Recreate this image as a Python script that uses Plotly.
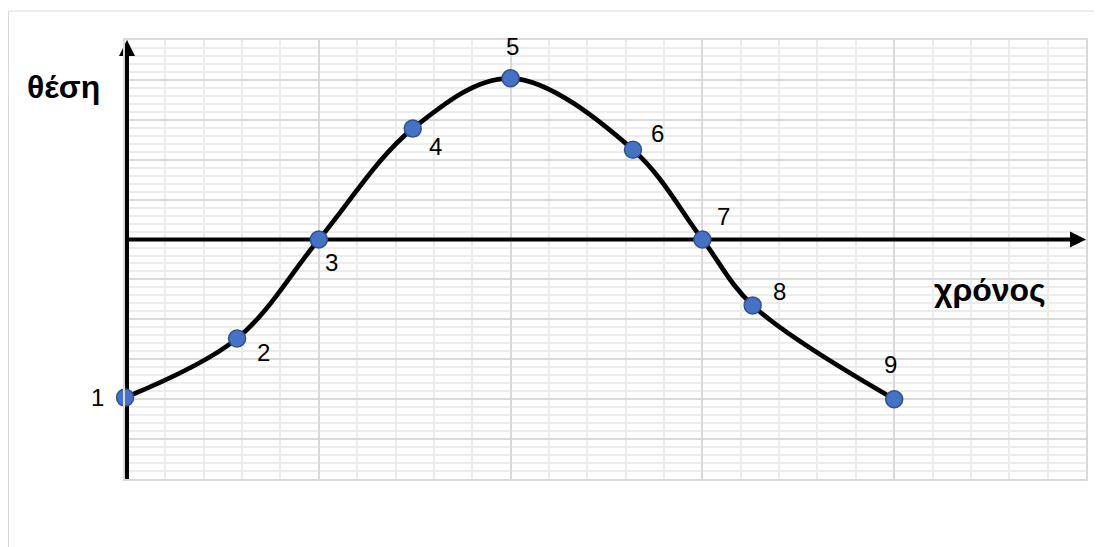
import plotly.graph_objects as go

# points (x in small grid steps, y in big grid steps)
xronos = [-0.05, 2.87, 5.0, 7.45, 10.0, 13.19, 15.0, 16.31, 20.0]
thesi = [-3.96, -2.48, 0.0, 2.78, 4.04, 2.25, 0.0, -1.65, -4.0]
point_labels = ["1", "2", "3", "4", "5", "6", "7", "8", "9"]

x_range = [-0.052, 25]   # tiny bit left of 0 so the thick y axis is not cut
y_range = [-6, 5]

# where each number sits around its point, in pixels
label_shift = [(-28, 0), (26, -14), (13, -23), (23, -18), (2, 32),
               (25, 16), (21, 23), (27, 14), (-4, 35)]

grid_major = "#d9d9d9"
grid_minor = "#ececec"

fig = go.Figure()

# the two black axes
axis_line = dict(color="black", width=4)
fig.add_shape(type="line", x0=0, x1=0, y0=y_range[0], y1=y_range[1] - 0.2,
              line=axis_line, layer="between")
fig.add_shape(type="line", x0=0, x1=x_range[1] - 0.2, y0=0, y1=0,
              line=axis_line, layer="between")

# arrow heads at the ends of the axes
fig.add_trace(go.Scatter(
    x=[0, x_range[1]], y=[y_range[1], 0], mode="markers",
    marker=dict(symbol=["arrow-up", "arrow-right"], size=16, color="black",
                line=dict(width=0)),
    cliponaxis=False, hoverinfo="skip", showlegend=False,
))

fig.add_trace(go.Scatter(
    x=xronos, y=thesi, mode="lines+markers",
    line=dict(color="black", width=4.7, shape="spline", smoothing=1),
    marker=dict(size=17, color="#4472C4", line=dict(color="#2F528F", width=1.5)),
    cliponaxis=False, hoverinfo="skip", showlegend=False,
))

for x, y, t, (dx, dy) in zip(xronos, thesi, point_labels, label_shift):
    fig.add_annotation(x=x, y=y, text=t, showarrow=False, xshift=dx, yshift=dy,
                       font=dict(family="Arial", size=24, color="black"))

# outer chart frame
fig.add_shape(type="rect", xref="paper", yref="paper",
              x0=-0.1212, x1=1.05, y0=-0.2, y1=1.066,
              line=dict(color=grid_major, width=1), layer="below")

fig.add_annotation(xref="paper", yref="paper", x=-0.0645, y=0.893, text="<b>θέση</b>",
                   showarrow=False, xanchor="center", yanchor="middle",
                   font=dict(family="Arial", size=32, color="black"))
fig.add_annotation(xref="paper", yref="paper", x=0.9, y=0.4305, text="<b>χρόνος</b>",
                   showarrow=False, xanchor="center", yanchor="middle",
                   font=dict(family="Arial", size=32, color="black"))

fig.update_xaxes(range=x_range, tick0=0, dtick=5, showgrid=True,
                 gridcolor=grid_major, gridwidth=1.5,
                 minor=dict(tick0=0, dtick=1, showgrid=True, gridcolor=grid_minor, gridwidth=1.5),
                 showticklabels=False, ticks="", zeroline=False,
                 showline=True, mirror=True, linecolor=grid_major, linewidth=1.5)
fig.update_yaxes(range=y_range, tick0=0, dtick=1, showgrid=True,
                 gridcolor=grid_major, gridwidth=1.5,
                 minor=dict(dtick=0.2, showgrid=True, gridcolor=grid_minor, gridwidth=1.5),
                 showticklabels=False, ticks="", zeroline=False,
                 showline=True, mirror=True, linecolor=grid_major, linewidth=1.5)

# the page puts the figure 8px in from the top left corner
fig.update_layout(width=1094, height=539,
                  margin=dict(l=117, r=16, t=32, b=68),
                  paper_bgcolor="white", plot_bgcolor="white")

fig.write_html("out.html")
